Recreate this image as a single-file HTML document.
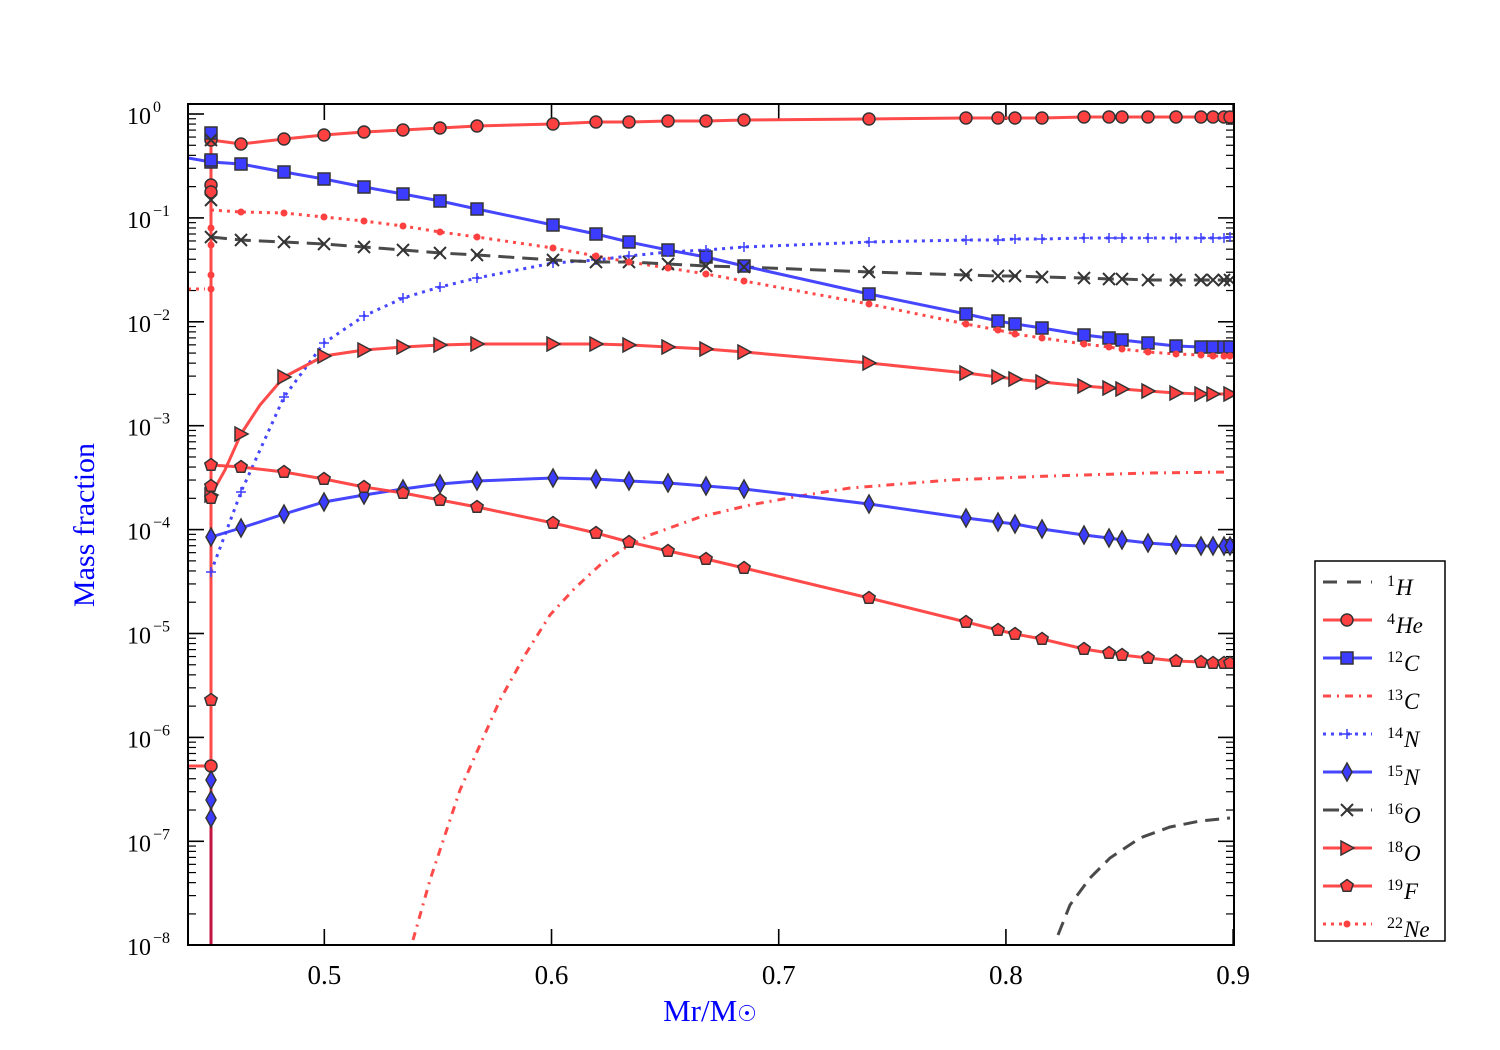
<!DOCTYPE html>
<html><head><meta charset="utf-8"><style>
body{margin:0;background:#fff}
svg{display:block}
text{font-family:"Liberation Serif",serif}
</style></head><body>
<svg id="s" width="1500" height="1050" xmlns="http://www.w3.org/2000/svg"></svg>
<script>
const s=document.getElementById('s');let h='';
function Yd(d){return 114+d*103.9;}
function xs(m){return 188+(m-0.44)*2272;}
h+='<defs><clipPath id="c"><rect x="188" y="104" width="1046" height="841"/></clipPath></defs>';
for(let d=0;d<=8;d++){let y=Yd(d);
 h+=`<line x1="188" y1="${y}" x2="204" y2="${y}" stroke="#000" stroke-width="1.6"/><line x1="1234" y1="${y}" x2="1218" y2="${y}" stroke="#000" stroke-width="1.6"/>`;
 h+=`<text x="151" y="${y+10}" font-size="24" text-anchor="end">10</text><text x="153" y="${y-2}" font-size="16">${d==0?'0':'−'+d}</text>`;
 for(let k=2;k<=9;k++){let yy=y-Math.log10(k)*103.9; if(yy<104)continue;
  h+=`<line x1="188" y1="${yy}" x2="196" y2="${yy}" stroke="#000" stroke-width="1.2"/><line x1="1234" y1="${yy}" x2="1226" y2="${yy}" stroke="#000" stroke-width="1.2"/>`;}
}
[0.5,0.6,0.7,0.8,0.9].forEach(m=>{let x=xs(m);
 h+=`<line x1="${x}" y1="945" x2="${x}" y2="929" stroke="#000" stroke-width="1.6"/><line x1="${x}" y1="104" x2="${x}" y2="120" stroke="#000" stroke-width="1.6"/>`;
 h+=`<text x="${x}" y="984" font-size="27" text-anchor="middle">${m}</text>`;});
const xsP=[211,241,284,324,364,403,440,477,553,596,629,668,706,744,869,966,998,1015,1042,1084,1109,1122,1148,1176,1201,1213,1224,1230];
function pts(ys,xx){xx=xx||xsP;return xx.map((x,i)=>[x,ys[i]]);}
const He=pts([140,144,139,135,132,130,128,126,124,122,122,121,121,120,119,118,118,118,118,117,117,117,117,117,117,117,117,117]);
const C12=[[188,158]].concat(pts([162,164,172,179,187,194,201,209,225,234,242,250,257,266,294,314,321,324,328,335,338,340,343,346,347,347,347,347]));
const N14=pts([572,492,397,343,316,298,287,278,263,260,256,252,250,247,242,240,240,239,239,238,238,238,238,238,238,238,238,237]);
const N15=pts([537,528,514,502,495,489,484,481,478,479,481,483,486,489,504,518,522,524,529,535,538,540,543,545,546,546,546,546]);
const O16=pts([237,240,242,244,247,250,253,255,260,262,262,264,266,267,272,275,276,276,277,278,279,279,280,280,280,280,280,280]);
const O18=[[211,495],[225,470],[241,434],[260,405],[284,377],[324,356],[364,350],[403,347],[440,345],[477,344],[553,344],[596,344],[629,345],[668,347],[706,349],[744,352],[869,363],[966,373],[998,377],[1015,379],[1042,382],[1084,386],[1109,388],[1122,389],[1148,391],[1176,393],[1201,394],[1213,394],[1230,394]];
const F19=pts([465,467,472,479,487,493,500,507,523,533,542,551,559,568,598,622,630,634,639,649,653,655,658,661,662,663,663,663]);
const Ne=[[211,210]].concat(pts([210,212,213,217,221,226,232,237,248,256,262,268,274,281,304,324,330,334,338,344,347,349,352,354,355,356,356,356]).slice(1));
const C13=[[413,940],[430,880],[445,835],[460,790],[480,745],[500,700],[525,655],[550,615],[575,588],[600,565],[625,548],[650,535],[700,517],[750,505],[800,496],[850,488],[950,480],[1050,476],[1150,473],[1230,472]];
const H1=[[1058,935],[1070,905],[1090,878],[1110,858],[1140,838],[1170,827],[1200,821],[1230,818]];
const R='#ff4040',B='#3c3cff',G='#404040';
function line(p,c,dash,w){return `<polyline points="${p.map(q=>q.join(',')).join(' ')}" fill="none" stroke="${c}" stroke-width="${w||3}" ${dash?`stroke-dasharray="${dash}"`:''} opacity="0.95"/>`;}
function mk(t,x,y,c){const st=`fill="${c}" stroke="#333" stroke-width="1.5"`;
 if(t=='o')return `<circle cx="${x}" cy="${y}" r="6" ${st}/>`;
 if(t=='s')return `<rect x="${x-6}" y="${y-6}" width="12" height="12" ${st}/>`;
 if(t=='d')return `<polygon points="${x},${y-9} ${x+5},${y} ${x},${y+9} ${x-5},${y}" ${st}/>`;
 if(t=='>')return `<polygon points="${x-6},${y-7} ${x+7},${y} ${x-6},${y+7}" ${st}/>`;
 if(t=='p'){let a=[];for(let i=0;i<5;i++){let an=-Math.PI/2+i*2*Math.PI/5;a.push((x+6.5*Math.cos(an)).toFixed(1)+','+(y+6.5*Math.sin(an)).toFixed(1));}return `<polygon points="${a.join(' ')}" ${st}/>`;}
 if(t=='x')return `<path d="M${x-6} ${y-6}L${x+6} ${y+6}M${x-6} ${y+6}L${x+6} ${y-6}" stroke="#333" stroke-width="2"/>`;
 if(t=='+')return `<path d="M${x-5} ${y}L${x+5} ${y}M${x} ${y-5}L${x} ${y+5}" stroke="${B}" stroke-width="1.5"/>`;
 if(t=='.')return `<circle cx="${x}" cy="${y}" r="3.5" fill="${R}"/>`;return '';}
let g='<g clip-path="url(#c)">';
g+=line(H1,G,'14,8');
g+=line(C13,R,'8,6,2,6');
g+=line([[188,289],[205,289]],R,'3,5');
g+=line([[188,766],[211,766]],R);
g+=line(N14,B,'3,5');
g+=line(Ne,R,'3,5');
g+=line([[211,140],[211,945]],R,null,3);
g+=line([[211,800],[211,945]],'#c01040',null,3);
g+=line(O16,G,'16,8');
g+=line(He,R);g+=line(C12,B);g+=line(N15,B);g+=line(O18,R);g+=line(F19,R);
He.forEach(p=>g+=mk('o',p[0],p[1],R));
C12.slice(1).forEach(p=>g+=mk('s',p[0],p[1],B));
N14.forEach(p=>g+=mk('+',p[0],p[1]));
N15.forEach(p=>g+=mk('d',p[0],p[1],B));
O16.forEach(p=>g+=mk('x',p[0],p[1]));
O18.filter((p,i)=>i!=1&&i!=3).forEach(p=>g+=mk('>',p[0],p[1],R));
F19.forEach(p=>g+=mk('p',p[0],p[1],R));
Ne.slice(1).forEach(p=>g+=mk('.',p[0],p[1]));
[[133,'s',B],[140,'x',G],[160,'s',B],[185,'o',R],[192,'o',R],[200,'x',G],[228,'.',R],[245,'.',R],[275,'.',R],[289,'.',R],[486,'p',R],[498,'p',R],[700,'p',R],[766,'o',R],[780,'d',B],[800,'d',B],[818,'d',B]].forEach(q=>g+=mk(q[1],211,q[0],q[2]));
g+='</g>';h+=g;
h+='<rect x="188" y="104" width="1046" height="841" fill="none" stroke="#000" stroke-width="2"/>';
h+='<text transform="translate(94,525) rotate(-90)" font-size="30" fill="#0000ff" text-anchor="middle">Mass fraction</text>';
h+='<text x="710" y="1021" font-size="31" fill="#0000ff" text-anchor="middle">Mr/M<tspan font-family="DejaVu Sans" font-size="22">☉</tspan></text>';
h+='<rect x="1315" y="561" width="130" height="380" fill="#fff" stroke="#000" stroke-width="1.5"/>';
const L=[['1','H',G,'14,10',null],['4','He',R,null,'o'],['12','C',B,null,'s'],['13','C',R,'8,6,2,6',null],['14','N',B,'3,5','+'],['15','N',B,null,'d'],['16','O',G,'16,8','x'],['18','O',R,null,'>'],['19','F',R,null,'p'],['22','Ne',R,'3,5','.']];
L.forEach((e,i)=>{let y=582+i*38;
 h+=line([[1323,y],[1372,y]],e[2],e[3]);
 if(e[4])h+=mk(e[4],1347,y,e[2]);
 h+=`<text x="1387" y="${y+4}" font-size="16">${e[0]}</text><text x="${1388+e[0].length*8}" y="${y+13}" font-size="23" font-style="italic">${e[1]}</text>`;});
s.innerHTML=h;
</script>
</body></html>
